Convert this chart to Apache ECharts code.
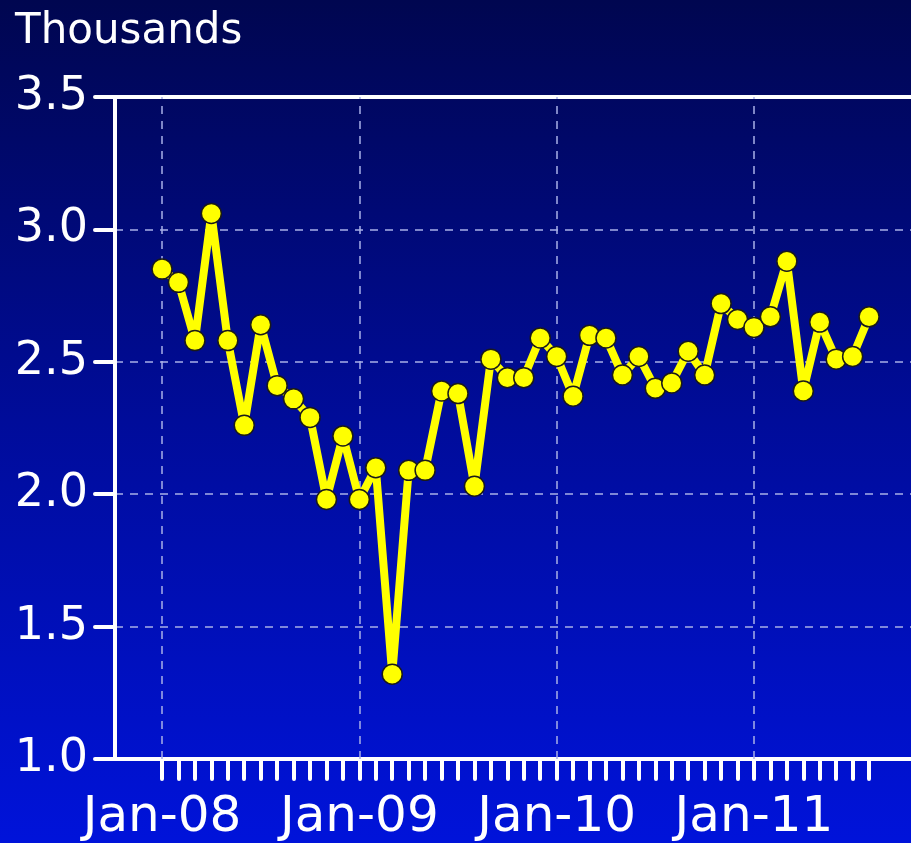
<!DOCTYPE html>
<html>
<head>
<meta charset="utf-8">
<script src="https://cdn.jsdelivr.net/npm/echarts@6/dist/echarts.min.js"></script>
<style>
  html, body { margin: 0; padding: 0; }
  #main { width: 911px; height: 843px; }
</style>
</head>
<body>
<div id="main"></div>
<script>
// monthly labels, Jan-08 .. Aug-11
var months = [
    'Jan-08', 'Feb-08', 'Mar-08', 'Apr-08', 'May-08', 'Jun-08', 'Jul-08', 'Aug-08', 'Sep-08', 'Oct-08', 'Nov-08', 'Dec-08',
    'Jan-09', 'Feb-09', 'Mar-09', 'Apr-09', 'May-09', 'Jun-09', 'Jul-09', 'Aug-09', 'Sep-09', 'Oct-09', 'Nov-09', 'Dec-09',
    'Jan-10', 'Feb-10', 'Mar-10', 'Apr-10', 'May-10', 'Jun-10', 'Jul-10', 'Aug-10', 'Sep-10', 'Oct-10', 'Nov-10', 'Dec-10',
    'Jan-11', 'Feb-11', 'Mar-11', 'Apr-11', 'May-11', 'Jun-11', 'Jul-11', 'Aug-11'
];
// values in thousands
var values = [
    2.85, 2.80, 2.58, 3.06, 2.58, 2.26, 2.64, 2.41, 2.36, 2.29, 1.98, 2.22,
    1.98, 2.10, 1.32, 2.09, 2.09, 2.39, 2.38, 2.03, 2.51, 2.44, 2.44, 2.59,
    2.52, 2.37, 2.60, 2.59, 2.45, 2.52, 2.40, 2.42, 2.54, 2.45, 2.72, 2.66,
    2.63, 2.67, 2.88, 2.39, 2.65, 2.51, 2.52, 2.67
];
// months that carry a label and a vertical grid line
var labelMonths = [0, 12, 24, 36];

var fontName = 'DejaVu Sans';
var points = values.map(function (v, i) { return [i, v]; });
var allTicks = months.map(function (m, i) { return i; });

var chart = echarts.init(document.getElementById('main'));
var option = {
    backgroundColor: {
        type: 'linear', x: 0, y: 0, x2: 0, y2: 1,
        colorStops: [
            { offset: 0, color: '#000650' },
            { offset: 0.5, color: '#000c9a' },
            { offset: 1, color: '#0013da' }
        ]
    },
    animation: false,
    title: {
        text: 'Thousands',
        left: 10,
        top: 6,
        textStyle: { color: '#ffffff', fontFamily: fontName, fontWeight: 'normal', fontSize: 42 }
    },
    grid: { left: 115, top: 97, right: 0, bottom: 81 },
    xAxis: [{
        type: 'value',
        min: -2.86,
        max: 45.55,
        axisLine: { lineStyle: { color: '#ffffff', width: 4 } },
        axisTick: {
            customValues: allTicks,
            length: 20,
            lineStyle: { color: '#ffffff', width: 4, cap: 'round' }
        },
        axisLabel: {
            customValues: labelMonths,
            formatter: function (v) { return months[Math.round(v)]; },
            color: '#ffffff',
            fontFamily: fontName,
            fontSize: 50,
            margin: 34
        },
        splitLine: { show: false }
    }, {
        type: 'value',
        position: 'top',
        min: -2.86,
        max: 45.55,
        axisLine: { lineStyle: { color: '#ffffff', width: 4 } },
        axisTick: { show: false },
        axisLabel: { show: false },
        splitLine: { show: false }
    }],
    yAxis: {
        type: 'value',
        min: 1.0,
        max: 3.5,
        interval: 0.5,
        axisLine: { show: true, onZero: false, lineStyle: { color: '#ffffff', width: 4 } },
        axisTick: { show: true, length: 20, lineStyle: { color: '#ffffff', width: 4, cap: 'round' } },
        axisLabel: {
            color: '#ffffff',
            fontFamily: fontName,
            fontSize: 46,
            margin: 27,
            formatter: function (v) { return v.toFixed(1); }
        },
        splitLine: { show: true, lineStyle: { color: '#a8b0e8', width: 1.5, type: [8, 7] } }
    },
    series: [{
        type: 'line',
        data: points,
        symbol: 'circle',
        symbolSize: 20,
        lineStyle: { color: '#ffff00', width: 8 },
        itemStyle: { color: '#ffff00', borderColor: '#1a1a1a', borderWidth: 1.5 },
        z: 5,
        markLine: {
            silent: true,
            symbol: 'none',
            label: { show: false },
            lineStyle: { color: '#a8b0e8', width: 1.5, type: [8, 7] },
            data: labelMonths.map(function (m) { return { xAxis: m }; }),
            z: 1
        }
    }]
};
chart.setOption(option);
</script>
</body>
</html>
